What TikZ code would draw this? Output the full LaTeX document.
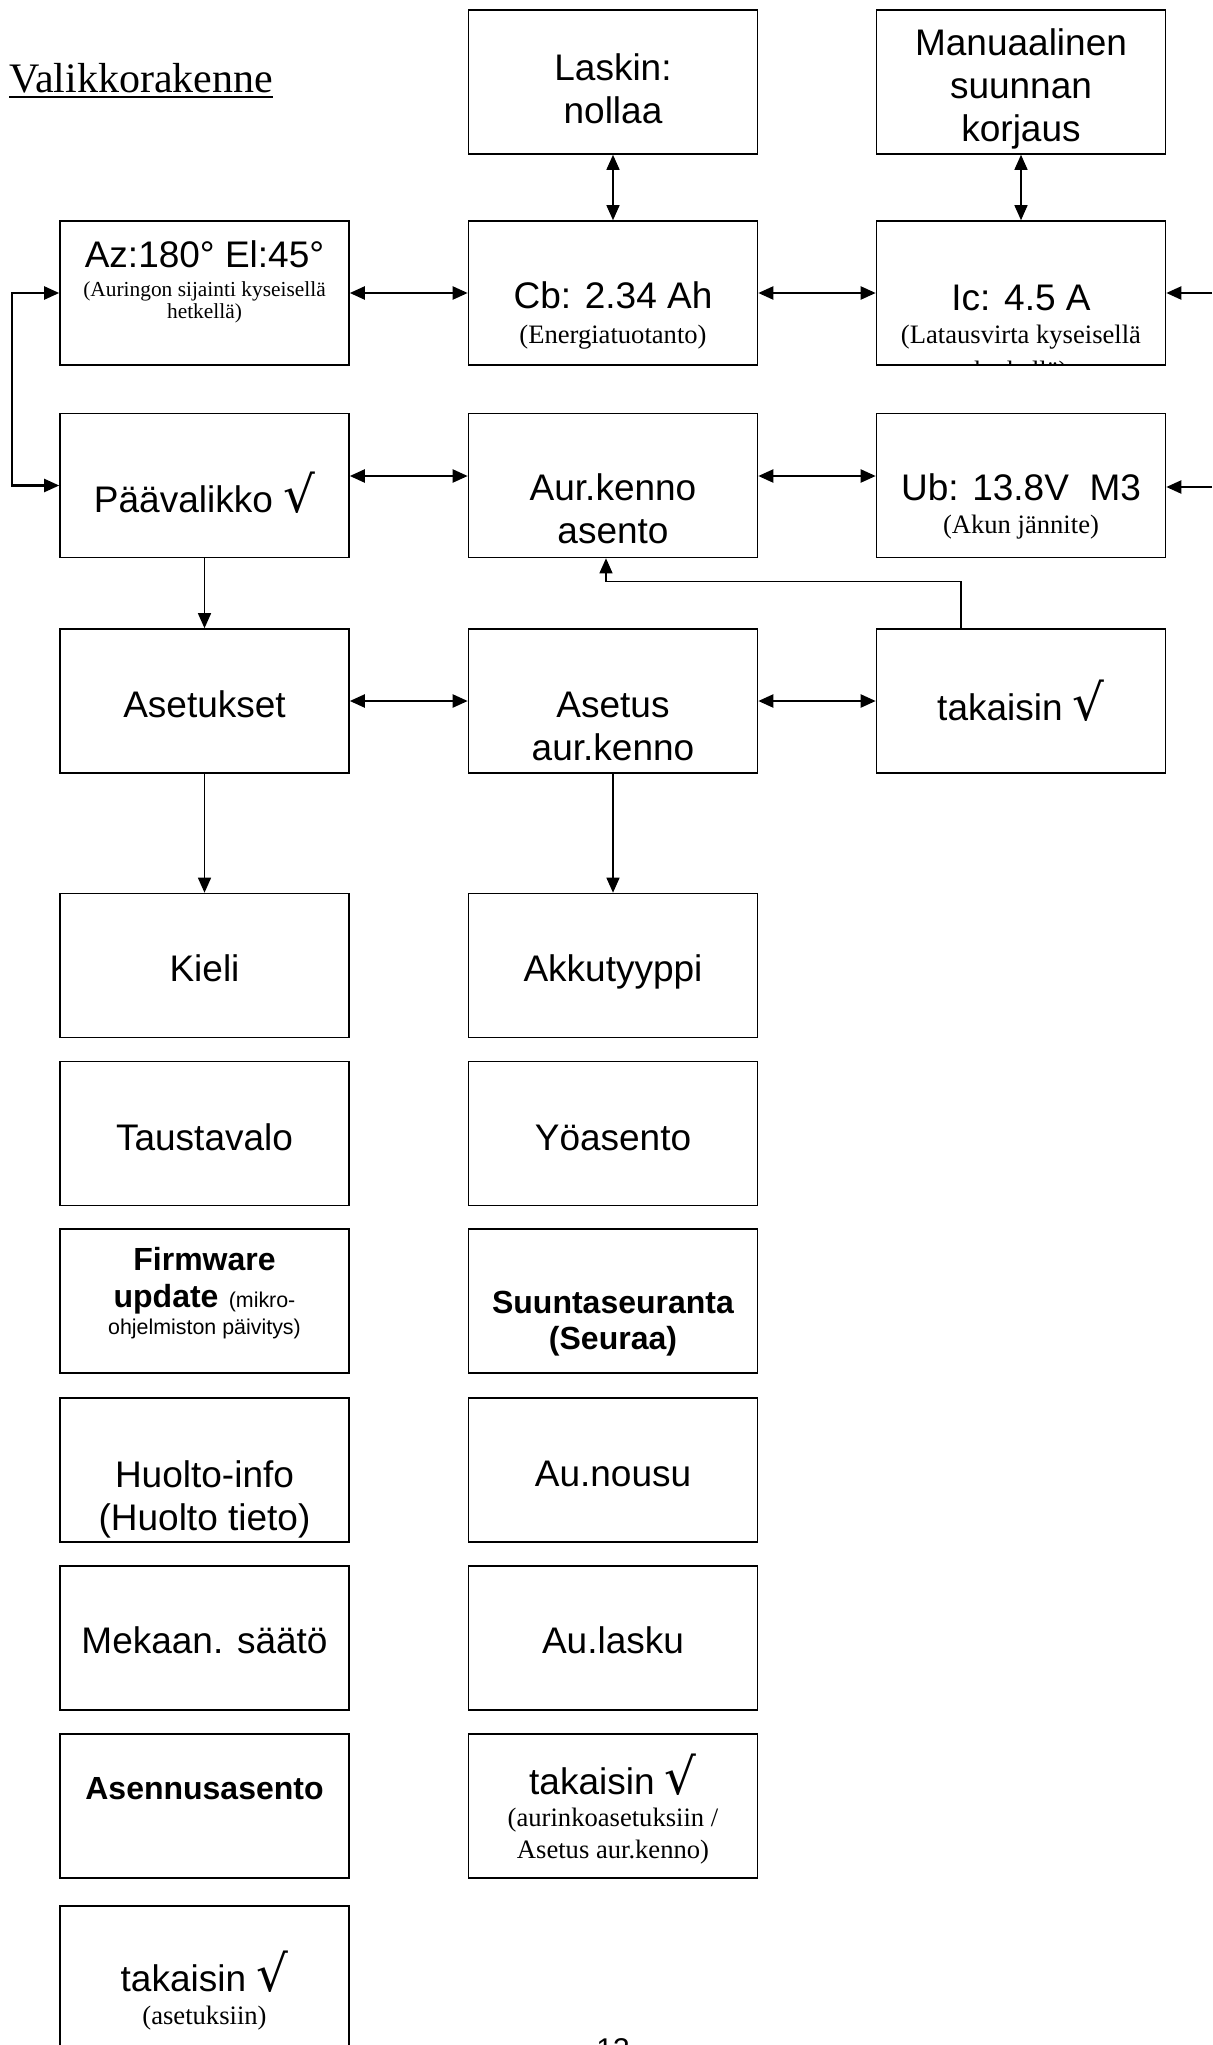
\documentclass[tikz,border=0pt]{standalone}
\usepackage{fontspec}
\setmainfont{Liberation Sans}
\newfontfamily\timesfont{Liberation Serif}
\newfontfamily\chkfont{DejaVu Sans}
\usetikzlibrary{arrows.meta}
\newcommand{\smallnote}{\timesfont\fontsize{13.3}{21.5}\selectfont}
\newcommand{\tinynote}{\timesfont\fontsize{10.7}{21.5}\selectfont}
\newcommand{\boldtxt}{\bfseries\fontsize{16}{21.5}\selectfont}
\newcommand{\chk}{{\chkfont\fontsize{25}{21.5}\selectfont √}}

\begin{document}
\begin{tikzpicture}[x=0.5pt, y=-0.5pt,
  menubox/.style={draw, line width=0.8pt, minimum width=144.5pt, minimum height=72pt, inner sep=0pt},
  boxtext/.style={anchor=base, text width=142pt, align=flush center, inner sep=0pt, font=\fontsize{18.5}{21.5}\selectfont},
  hbi/.style={{Triangle[length=7.5pt,width=6.5pt]}-{Triangle[length=7.5pt,width=6.5pt]}, line width=1.1pt},
  vbi/.style={{Triangle[length=7.5pt,width=6.5pt]}-{Triangle[length=7.5pt,width=6.5pt]}, line width=0.7pt},
  hto/.style={-{Triangle[length=7.5pt,width=6.5pt]}, line width=1.1pt},
  vto/.style={-{Triangle[length=7.5pt,width=6.5pt]}, line width=0.7pt}]
  \path[fill=white, use as bounding box] (0,0) rectangle (1212,2045);

  % title
  \node[anchor=base west, inner sep=0pt, font=\timesfont\fontsize{21}{24}\selectfont] (title) at (9,92) {Valikkorakenne};
  \draw[line width=1.3pt] ([yshift=-2.4pt]title.base west) -- ([yshift=-2.4pt]title.base east);

  % boxes
  \node[menubox] (laskin) at (613,82) {};
  \node[menubox] (manual) at (1021,82) {};
  \node[menubox] (az) at (204.5,293) {};
  \node[menubox] (cb) at (613,293) {};
  \node[menubox] (ic) at (1021,293) {};
  \node[menubox] (paa) at (204.5,485.5) {};
  \node[menubox] (aur) at (613,485.5) {};
  \node[menubox] (ub) at (1021,485.5) {};
  \node[menubox] (ase) at (204.5,701) {};
  \node[menubox] (asa) at (613,701) {};
  \node[menubox] (tak1) at (1021,701) {};
  \node[menubox] (kieli) at (204.5,965.5) {};
  \node[menubox] (akku) at (613,965.5) {};
  \node[menubox] (tausta) at (204.5,1133.5) {};
  \node[menubox] (yo) at (613,1133.5) {};
  \node[menubox] (firm) at (204.5,1301) {};
  \node[menubox] (suunta) at (613,1301) {};
  \node[menubox] (huolto) at (204.5,1470) {};
  \node[menubox] (nousu) at (613,1470) {};
  \node[menubox] (mekaan) at (204.5,1638) {};
  \node[menubox] (lasku) at (613,1638) {};
  \node[menubox] (asennus) at (204.5,1806) {};
  \node[menubox] (tak2) at (613,1806) {};
  \node[menubox] (tak3) at (204.5,1978) {};

  % texts
  \node[boxtext] (laskin-t) at (613,80) {Laskin:\\nollaa};
  \node[boxtext] (manual-t) at (1021,55) {Manuaalinen\\suunnan\\korjaus};
  \node[boxtext] (az-t) at (204.5,267) {Az:180° El:45°\\[-7pt]{\tinynote (Auringon sijainti kyseisellä\\[-10.5pt]hetkellä)}};
  \node[boxtext] (cb-t) at (613,308) {Cb: 2.34 Ah\\[-4pt]{\smallnote (Energiatuotanto)}};
  \begin{scope}
    \clip (ic.south west) rectangle (ic.north east);
    \node[boxtext] (ic-t) at (1021,310) {Ic: 4.5 A\\[-5pt]{\smallnote (Latausvirta kyseisellä\\[-3.5pt]hetkellä)}};
  \end{scope}
  \node[boxtext] (paa-t) at (204.5,512) {Päävalikko \chk};
  \node[boxtext] (aur-t) at (613,500) {Aur.kenno\\asento};
  \node[boxtext] (ub-t) at (1021,500) {Ub: 13.8V\ \ M3\\[-5pt]{\smallnote (Akun jännite)}};
  \node[boxtext] (ase-t) at (204.5,717) {Asetukset};
  \node[boxtext] (asa-t) at (613,717) {Asetus\\aur.kenno};
  \node[boxtext] (tak1-t) at (1021,720) {takaisin \chk};
  \node[boxtext] (kieli-t) at (204.5,981) {Kieli};
  \node[boxtext] (akku-t) at (613,981) {Akkutyyppi};
  \node[boxtext] (tausta-t) at (204.5,1150) {Taustavalo};
  \node[boxtext] (yo-t) at (613,1150) {Yöasento};
  \node[boxtext] (firm-t) at (204.5,1270) {{\boldtxt Firmware\\[-3pt]update} {\fontsize{10.7}{21.5}\selectfont (mikro-\\[-8pt]ohjelmiston päivitys)}};
  \node[boxtext] (suunta-t) at (613,1313) {{\boldtxt Suuntaseuranta\\[-3.5pt](Seuraa)}};
  \node[boxtext] (huolto-t) at (204.5,1487) {Huolto-info\\(Huolto tieto)};
  \node[boxtext] (nousu-t) at (613,1486) {Au.nousu};
  \node[boxtext] (mekaan-t) at (204.5,1653) {Mekaan. säätö};
  \node[boxtext] (lasku-t) at (613,1653) {Au.lasku};
  \node[boxtext] (asennus-t) at (204.5,1799) {{\boldtxt Asennusasento}};
  \node[boxtext] (tak2-t) at (613,1794) {takaisin \chk\\[-5.5pt]{\smallnote (aurinkoasetuksiin /\\[-5.5pt]Asetus aur.kenno)}};
  \node[boxtext] (tak3-t) at (204.5,1991) {takaisin \chk\\[-5pt]{\smallnote (asetuksiin)}};
  \node[anchor=north, inner sep=0pt, font=\fontsize{15}{18}\selectfont] (pagenum) at (613,2038) {13};

  % connectors
  \coordinate (icin) at (1212,293);
  \coordinate (ubin) at (1212,487);
  \draw[vbi] (laskin) -- (cb);
  \draw[vbi] (manual) -- (ic);
  \draw[hbi] (az) -- (cb);
  \draw[hbi] (cb) -- (ic);
  \draw[hto] (icin) -- (ic.east);
  \draw[hbi] (az.west) -- ++(-47,0) |- (paa.west);
  \draw[hbi] ([yshift=4.75pt]paa.east) -- ([yshift=4.75pt]aur.west);
  \draw[hbi] ([yshift=4.75pt]aur.east) -- ([yshift=4.75pt]ub.west);
  \draw[hto] (ubin) -- (ubin -| ub.east);
  \draw[vto] (paa) -- (ase);
  \draw[hbi] (ase) -- (asa);
  \draw[hbi] (asa) -- (tak1);
  \draw[vto] ([xshift=-30pt]tak1.north) -- ++(0,-47) -| ([xshift=-3.5pt]aur.south);
  \draw[vto] (ase) -- (kieli);
  \draw[vto] (asa) -- (akku);
\end{tikzpicture}
\end{document}
